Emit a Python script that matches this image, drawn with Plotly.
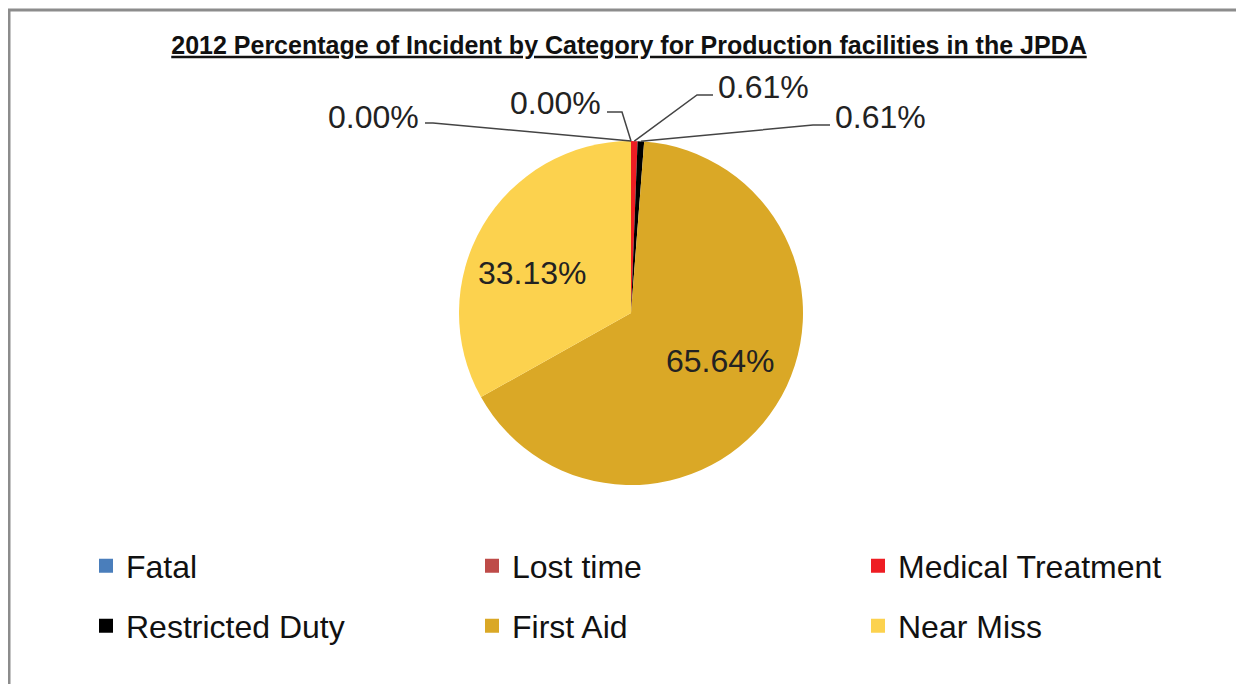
import math
import plotly.graph_objects as go

# ---------------- data ----------------
categories = ["Fatal", "Lost time", "Medical Treatment", "Restricted Duty", "First Aid", "Near Miss"]
percentages = [0.00, 0.00, 0.61, 0.61, 65.64, 33.13]
slice_colors = ["#4A7EBB", "#BE4B48", "#EE1D23", "#000000", "#DAA826", "#FCD24E"]
title_text = "2012 Percentage of Incident by Category for Production facilities in the JPDA"

# ---------------- layout constants (pixels) ----------------
W, H = 1244, 684
PAGE_OFFSET = 8          # default body margin of the html page
CX, CY, R = 631, 313, 172
FONT = "Liberation Sans, Arial, sans-serif"
INSIDE_FRAC = 0.6
inside_nudge = {"Near Miss": (-9, 12), "First Aid": (3, -8)}

# leader-line layout for the small slices (elbow point, line end, text anchor)
outside_layout = {
    "Fatal": dict(elbow=(433, 123), end=(425, 123), text=(421, 117), anchor="right"),
    "Lost time": dict(elbow=(622, 112), end=(607, 112), text=(603, 103), anchor="right"),
    "Medical Treatment": dict(elbow=(697, 95), end=(713, 95), text=(716, 87), anchor="left"),
    "Restricted Duty": dict(elbow=(813, 125), end=(830, 125), text=(833, 117), anchor="left"),
}


def px(x):
    return (x - PAGE_OFFSET) / W


def py(y):
    return 1 - (y - PAGE_OFFSET) / H


fig = go.Figure()

fig.add_trace(go.Pie(
    values=percentages,
    labels=categories,
    sort=False,
    direction="clockwise",
    rotation=0,
    marker=dict(colors=slice_colors, line=dict(width=0)),
    textinfo="none",
    hoverinfo="label+percent",
    showlegend=False,
    domain=dict(x=[px(CX - R), px(CX + R)], y=[py(CY + R), py(CY - R)]),
))

# legend entries (two rows of three)
for i, (cat, col) in enumerate(zip(categories, slice_colors)):
    fig.add_trace(go.Scatter(
        x=[None], y=[None], mode="markers", name=cat,
        marker=dict(symbol="square", size=14, color=col),
        legend="legend" if i < 3 else "legend2",
        hoverinfo="skip",
    ))

# labels computed from slice angles
total = sum(percentages)
cum = 0.0
annotations = []
shapes = []
for cat, val in zip(categories, percentages):
    frac = val / total
    mid = (cum + frac / 2) * 2 * math.pi
    cum += frac
    label = f"{val:.2f}%"
    if cat in outside_layout:
        lay = outside_layout[cat]
        sx = CX + R * math.sin(mid)
        sy = CY - R * math.cos(mid)
        ex, ey = lay["elbow"]
        fx, fy = lay["end"]
        shapes.append(dict(
            type="path", xref="paper", yref="paper",
            path=f"M {px(sx)} {py(sy)} L {px(ex)} {py(ey)} L {px(fx)} {py(fy)}",
            line=dict(color="#444444", width=1.5),
        ))
        tx, ty = lay["text"]
        annotations.append(dict(
            x=px(tx), y=py(ty), xref="paper", yref="paper", text=label,
            showarrow=False, xanchor=lay["anchor"], yanchor="middle",
            font=dict(family=FONT, size=32, color="#222222"),
        ))
    else:
        nx, ny = inside_nudge.get(cat, (0, 0))
        lx = CX + INSIDE_FRAC * R * math.sin(mid) + nx
        ly = CY - INSIDE_FRAC * R * math.cos(mid) + ny
        annotations.append(dict(
            x=px(lx), y=py(ly), xref="paper", yref="paper", text=label,
            showarrow=False, xanchor="center", yanchor="middle",
            font=dict(family=FONT, size=32, color="#222222"),
        ))

# frame lines (top and left edge of the chart area)
shapes.append(dict(type="line", xref="paper", yref="paper",
                   x0=px(8), x1=1, y0=py(10), y1=py(10),
                   line=dict(color="#8C8C8C", width=3)))
shapes.append(dict(type="line", xref="paper", yref="paper",
                   x0=px(9), x1=px(9), y0=py(10), y1=0,
                   line=dict(color="#8C8C8C", width=3)))

legend_common = dict(
    orientation="h", xanchor="left", yanchor="middle",
    entrywidth=341, entrywidthmode="pixels",
    font=dict(family=FONT, size=32, color="#111111"),
    bgcolor="rgba(0,0,0,0)", borderwidth=0,
    itemclick=False, itemdoubleclick=False,
)

fig.update_layout(
    width=W, height=H,
    margin=dict(l=0, r=0, t=0, b=0),
    paper_bgcolor="white", plot_bgcolor="white",
    title=dict(
        text=f"<b><u>{title_text}</u></b>",
        x=px(629), xanchor="center", y=py(45), yanchor="middle", yref="container",
        font=dict(family=FONT, size=25, color="#111111"),
    ),
    xaxis=dict(visible=False),
    yaxis=dict(visible=False),
    legend=dict(x=px(86), y=py(566), **legend_common),
    legend2=dict(x=px(86), y=py(626), **legend_common),
    annotations=annotations,
    shapes=shapes,
)

fig.write_html("out.html")
